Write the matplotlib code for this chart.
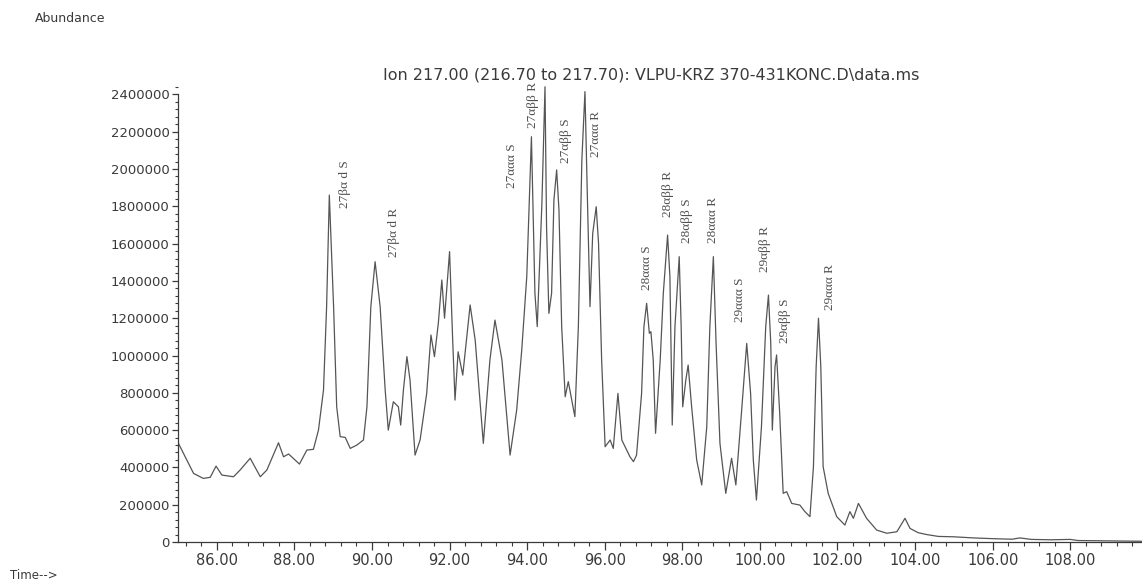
import matplotlib
matplotlib.use("Agg")
import matplotlib.pyplot as plt
from matplotlib.ticker import MultipleLocator, FormatStrFormatter

# retention time (min) and abundance (thousands)
time_min = [85.01, 85.14, 85.40, 85.65, 85.83, 85.98, 86.13, 86.43, 86.60, 86.86,
            87.12, 87.29, 87.59, 87.72, 87.85, 87.97, 88.13, 88.32, 88.49, 88.62,
            88.75, 88.83, 88.90, 89.01, 89.09, 89.18, 89.31, 89.44, 89.61, 89.78,
            89.87, 89.97, 90.08, 90.21, 90.34, 90.42, 90.55, 90.68, 90.74, 90.81,
            90.90, 90.98, 91.11, 91.24, 91.41, 91.52, 91.61, 91.71, 91.80, 91.87,
            92.00, 92.08, 92.14, 92.22, 92.34, 92.53, 92.66, 92.87, 93.04, 93.17,
            93.35, 93.56, 93.73, 93.86, 93.99, 94.11, 94.20, 94.26, 94.38, 94.46,
            94.50, 94.56, 94.63, 94.69, 94.76, 94.82, 94.89, 94.98, 95.06, 95.23,
            95.32, 95.41, 95.49, 95.55, 95.62, 95.69, 95.78, 95.84, 95.92, 96.01,
            96.14, 96.22, 96.34, 96.44, 96.65, 96.74, 96.82, 96.95, 97.01, 97.08,
            97.15, 97.19, 97.25, 97.31, 97.43, 97.51, 97.62, 97.68, 97.74, 97.81,
            97.92, 97.97, 98.01, 98.09, 98.15, 98.24, 98.37, 98.50, 98.63, 98.71,
            98.80, 98.87, 98.97, 99.12, 99.27, 99.38, 99.53, 99.66, 99.76, 99.83,
            99.91, 100.04, 100.15, 100.22, 100.28, 100.32, 100.39, 100.43, 100.51, 100.60,
            100.69, 100.82, 101.03, 101.16, 101.29, 101.38, 101.45, 101.51, 101.57, 101.63,
            101.76, 101.98, 102.19, 102.32, 102.41, 102.54, 102.75, 103.01, 103.27, 103.53,
            103.74, 103.87, 104.08, 104.3, 104.6, 105.0, 105.5, 106.0, 106.5, 106.7,
            107.0, 107.5, 108.0, 108.2, 109.0, 109.85]
abund_k = [529, 475, 368, 341, 347, 407, 359, 350, 386, 449,
           350, 386, 532, 457, 472, 449, 418, 493, 497, 600,
           815, 1262, 1860, 1262, 725, 565, 561, 502, 520, 547,
           725, 1262, 1503, 1262, 815, 600, 752, 725, 627, 815,
           994, 869, 466, 547, 797, 1110, 994, 1173, 1405, 1200,
           1557, 1083, 761, 1020, 895, 1271, 1083, 529, 976, 1190,
           976, 466, 708, 1029, 1423, 2173, 1334, 1155, 1816, 2441,
           1690, 1226, 1334, 1834, 1995, 1780, 1155, 779, 860, 672,
           1155, 2048, 2415, 1870, 1262, 1655, 1798, 1602, 976, 511,
           547, 502, 797, 547, 457, 431, 466, 797, 1155, 1280,
           1119, 1128, 976, 583, 976, 1334, 1646, 1423, 627, 1155,
           1530, 1155, 725, 869, 949, 725, 440, 306, 618, 1155,
           1530, 1065, 529, 261, 449, 306, 708, 1065, 797, 440,
           225, 618, 1155, 1324, 1065, 600, 940, 1003, 690, 261,
           270, 207, 198, 163, 136, 404, 940, 1200, 940, 404,
           261, 136, 91, 163, 127, 207, 127, 64, 47, 55,
           127, 73, 50, 40, 30, 28, 22, 18, 15, 22,
           14, 12, 14, 8, 6, 4]

# peak labels: text, time, abundance (thousands) at the foot of the text
peak_names = ["27βα d S", "27βα d R", "27ααα S", "27αββ R", "27αββ S", "27ααα R",
              "28ααα S", "28αββ R", "28αββ S", "28ααα R",
              "29ααα S", "29αββ R", "29αββ S", "29ααα R"]
peak_time = [89.31, 90.57, 93.61, 94.15, 95.00, 95.78,
             97.09, 97.63, 98.12, 98.79,
             99.49, 100.13, 100.64, 101.81]
peak_base_k = [1791, 1528, 1898, 2220, 2032, 2064,
               1351, 1743, 1603, 1603,
               1180, 1448, 1067, 1244]

y_ticks = list(range(0, 2400001, 200000))

sans = ["DejaVu Sans"]
serif = ["Liberation Serif", "DejaVu Serif"]
ink = "#3a3a3a"

fig = plt.figure(figsize=(11.42, 5.88), dpi=100)
ax = fig.add_axes([0.1559, 0.0782, 0.8441, 0.7771])

ax.plot(time_min, [a * 1000 for a in abund_k], color="#555555", lw=0.9)

for name, t, b in zip(peak_names, peak_time, peak_base_k):
    ax.text(t, b * 1000, name, rotation=90, ha="center", va="bottom",
            fontsize=9.5, family=serif, color="#505050")

ax.set_xlim(85.0, 109.85)
ax.set_ylim(0, 2450000)
ax.xaxis.set_major_locator(MultipleLocator(2))
ax.xaxis.set_minor_locator(MultipleLocator(0.4))
ax.xaxis.set_major_formatter(FormatStrFormatter("%.2f"))
ax.set_yticks(y_ticks)
ax.yaxis.set_minor_locator(MultipleLocator(40000))
ax.yaxis.set_major_formatter(FormatStrFormatter("%d"))

for s in ["top", "right"]:
    ax.spines[s].set_visible(False)
ax.spines["left"].set_bounds(0, 2400000)
for s in ["left", "bottom"]:
    ax.spines[s].set_color(ink)
    ax.spines[s].set_linewidth(0.9)

ax.tick_params(axis="x", which="major", direction="out", length=6, width=0.9,
               color=ink, labelcolor=ink, labelsize=10.5, pad=2)
ax.tick_params(axis="x", which="minor", direction="out", length=3, width=0.8, color=ink)
ax.tick_params(axis="y", which="major", direction="out", length=4, width=0.9,
               color=ink, labelcolor=ink, labelsize=9.5, pad=2)
ax.tick_params(axis="y", which="minor", direction="out", length=2, width=0.8, color=ink)
for lab in ax.get_xticklabels() + ax.get_yticklabels():
    lab.set_family(sans)
ax.patch.set_alpha(0)

fig.text(0.57, 0.872, "Ion 217.00 (216.70 to 217.70): VLPU-KRZ 370-431KONC.D\\data.ms",
         ha="center", va="center", fontsize=11.5, family=sans, color=ink)
fig.text(0.031, 0.969, "Abundance", ha="left", va="center", fontsize=9,
         family=sans, color=ink)
fig.text(0.009, 0.021, "Time-->", ha="left", va="center", fontsize=8.5,
         family=sans, color=ink)

fig.savefig("out.png", dpi=100)
